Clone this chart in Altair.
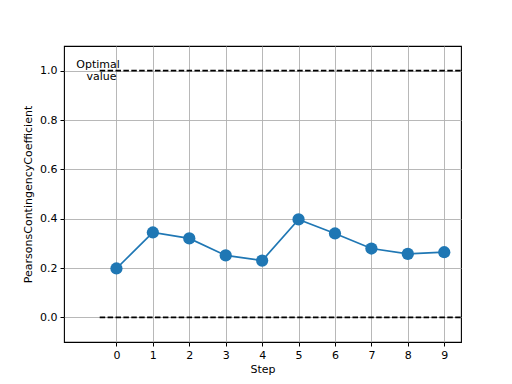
import altair as alt
import pandas as pd

steps = [0, 1, 2, 3, 4, 5, 6, 7, 8, 9]
values = [0.198, 0.344, 0.320, 0.251, 0.230, 0.397, 0.340, 0.279, 0.257, 0.264]
ref_levels = [1.0, 0.0]

df = pd.DataFrame({"Step": steps, "Value": values})
rules = pd.DataFrame({"y": ref_levels, "x0": [-0.46, -0.46], "x1": [9.5, 9.5]})
ann = pd.DataFrame({"x": [-0.505, -0.41], "y": [1.012, 0.963], "t": ["Optimal", "value"]})

FONT = "DejaVu Sans"
xs = alt.Scale(domain=[-1.44, 9.46], nice=False, zero=False)
ys = alt.Scale(domain=[-0.1, 1.1], nice=False, zero=False)

xenc = alt.X("Step:Q", scale=xs, title="Step",
             axis=alt.Axis(values=steps, format="d", grid=True))
yenc = alt.Y("Value:Q", scale=ys, title="PearsonsContingencyCoefficient",
             axis=alt.Axis(values=[0, 0.2, 0.4, 0.6, 0.8, 1.0], format=".1f", grid=True))

line = alt.Chart(df).mark_line(color="#1f77b4", strokeWidth=1.7).encode(x=xenc, y=yenc)
pts = alt.Chart(df).mark_point(filled=True, shape="circle", size=150, color="#1f77b4", opacity=1).encode(x="Step:Q", y="Value:Q")

rl = alt.Chart(rules).mark_rule(color="black", strokeWidth=1.7, strokeDash=[5.5, 2.4], clip=True).encode(
    x=alt.X("x0:Q", scale=xs), x2="x1:Q", y=alt.Y("y:Q", scale=ys))

txt = alt.Chart(ann).mark_text(font=FONT, fontSize=11, align="center", baseline="alphabetic", color="black").encode(
    x=alt.X("x:Q", scale=xs), y=alt.Y("y:Q", scale=ys), text="t:N")

chart = alt.layer(rl, line, pts, txt).properties(
    width=397, height=296,
    autosize=alt.AutoSizeParams(type="none"),
    padding={"left": 56, "top": 38, "right": 43, "bottom": 34},
).configure_view(stroke="black", strokeWidth=1.1).configure_axis(
    labelFont=FONT, titleFont=FONT, labelFontSize=11, titleFontSize=11,
    titleFontWeight="normal", labelColor="black", titleColor="black",
    gridColor="#b0b0b0", gridWidth=0.9, domain=False,
    tickColor="black", tickSize=4, tickWidth=1, labelPadding=3,
).configure_axisX(titlePadding=3).configure_axisY(titlePadding=6)

chart.save("out.html", embed_options={"renderer": "svg", "actions": False})
